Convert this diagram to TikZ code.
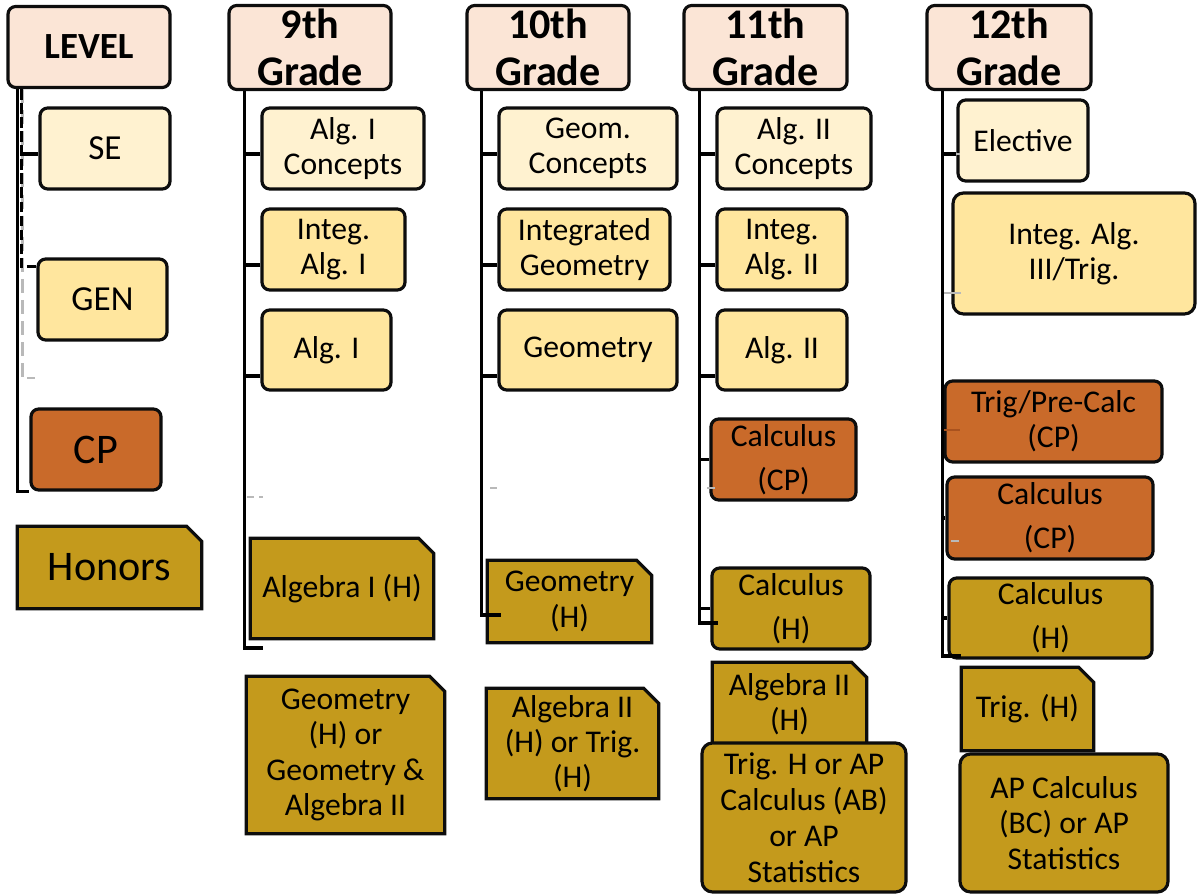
\documentclass[tikz,border=0pt]{standalone}
\usepackage{fontspec}
\setmainfont{Carlito}
\usepackage{tikz}
\usetikzlibrary{calc}
\usetikzlibrary{backgrounds}
\definecolor{headfill}{HTML}{FBE5D6}
\definecolor{litefill}{HTML}{FFF2D0}
\definecolor{midfill}{HTML}{FFE69E}
\definecolor{cpfill}{HTML}{C96A2A}
\definecolor{honfill}{HTML}{C49A1C}
\definecolor{tickbrown}{HTML}{A9521E}
\tikzstyle{box} = [draw=black!95, line width=0.9pt, rounded corners=2.2pt, align=center, inner sep=1pt, minimum height=8.1mm, font=\fontsize{9}{10}\selectfont]
\tikzstyle{headbox} = [box, fill=headfill, font=\bfseries\fontsize{12}{13.4}\selectfont]
\tikzstyle{litebox} = [box, fill=litefill]
\tikzstyle{midbox} = [box, fill=midfill]
\tikzstyle{cpbox} = [box, fill=cpfill]
\tikzstyle{honbox} = [box, fill=honfill, rounded corners=3pt]
\tikzstyle{spread} = [inner ysep=0pt, font=\fontsize{9}{12.5}\selectfont]
\tikzstyle{snip} = [align=center, inner sep=1pt, minimum height=8.1mm, font=\fontsize{9}{10}\selectfont]
\tikzstyle{snipline} = [draw=black!95, line width=0.9pt, fill=honfill, line join=miter]
\tikzstyle{link} = [line width=0.9pt]
\tikzstyle{stray} = [line width=0.8pt, gray!55]

\begin{document}
\begin{tikzpicture}[x=0.1mm, y=-0.1mm]
\useasboundingbox (0,0) rectangle (1197,895);

% level column
\node[headbox, font=\bfseries\fontsize{10.5}{12}\selectfont, minimum width=16.2mm] (lvl) at (89,47) {LEVEL};
\node[litebox, font=\fontsize{10}{12}\selectfont, minimum width=13mm] (se) at (105,148.5) {SE};
\node[midbox, font=\fontsize{10}{12}\selectfont, minimum width=12.9mm] (gen) at (102.5,299.5) {GEN};
\node[cpbox, font=\fontsize{12}{14}\selectfont, minimum width=13mm] (cp) at (96,449.5) {CP};
\node[snip, font=\fontsize{12}{14}\selectfont, minimum width=18.3mm] (hon) at (109.5,567.5) {Honors};

% 9th grade
\node[headbox, minimum width=16.2mm] (h9) at (310,47.5) {9th\\Grade};
\node[litebox, minimum width=16.2mm] (a9c) at (343,148.5) {Alg. I\\Concepts};
\node[midbox, minimum width=14.3mm] (a9i) at (333.5,249.5) {Integ.\\Alg. I};
\node[midbox, minimum width=12.9mm, minimum height=8mm] (a9) at (326.5,350) {Alg. I};
\node[snip, minimum width=18.2mm, minimum height=9.9mm] (a9h) at (342,588.5) {Algebra I (H)};
\node[snip, minimum width=19.7mm, minimum height=15.6mm] (g9h) at (345.5,755) {Geometry\\(H) or\\Geometry \&\\Algebra II};

% 10th grade
\node[headbox, minimum width=16.2mm] (h10) at (548,47.5) {10th\\Grade};
\node[litebox, minimum width=17.8mm] (g10c) at (588,148.5) {Geom.\\Concepts};
\node[midbox, minimum width=17.1mm] (g10i) at (584.5,249.5) {Integrated\\Geometry};
\node[midbox, minimum width=17.8mm, minimum height=8mm] (g10) at (588,350) {Geometry};
\node[snip, minimum width=16.3mm] (g10h) at (569.5,601.5) {Geometry\\(H)};
\node[snip, minimum width=17.1mm, minimum height=10.9mm] (a10h) at (572.5,743.5) {Algebra II\\(H) or Trig.\\(H)};

% 11th grade
\node[headbox, minimum width=16.3mm] (h11) at (765.5,47.5) {11th\\Grade};
\node[litebox, minimum width=15.4mm] (a11c) at (794,148.5) {Alg. II\\Concepts};
\node[midbox, minimum width=13mm] (a11i) at (782,249.5) {Integ.\\Alg. II};
\node[midbox, minimum width=13mm, minimum height=8mm] (a11) at (782,350) {Alg. II};
\node[cpbox, spread, minimum width=14.5mm] (c11) at (783.5,459.5) {Calculus\\(CP)};
\node[honbox, spread, rounded corners=2.2pt, minimum width=15.8mm] (c11h) at (791,608.5) {Calculus\\(H)};
\node[snip, minimum width=15.3mm, minimum height=8.2mm] (a11h) at (789.5,704) {Algebra II\\(H)};
\node[honbox, font=\fontsize{9}{10.2}\selectfont, minimum width=20.4mm, minimum height=14.9mm] (t11) at (804,817.5) {Trig. H or AP\\Calculus (AB)\\or AP\\Statistics};

% 12th grade
\node[headbox, minimum width=16.4mm] (h12) at (1009,47.5) {12th\\Grade};
\node[litebox, minimum width=13mm] (e12) at (1023,140.5) {Elective};
\node[midbox, rounded corners=3pt, minimum width=24.2mm, minimum height=12.1mm] (i12) at (1074,253.5) {Integ. Alg.\\III/Trig.};
\node[cpbox, minimum width=21.7mm] (p12) at (1053.5,421.5) {Trig/Pre-Calc\\(CP)};
\node[cpbox, spread, minimum width=20.6mm, minimum height=8.2mm] (c12) at (1050,518) {Calculus\\(CP)};
\node[honbox, spread, rounded corners=2.2pt, minimum width=20.3mm, minimum height=8mm] (c12h) at (1050.5,618) {Calculus\\(H)};
\node[snip, minimum width=13.1mm, minimum height=8.2mm] (t12) at (1027.5,709) {Trig. (H)};
\node[honbox, minimum width=20.8mm, minimum height=13.8mm] (ap12) at (1064,823) {AP Calculus\\(BC) or AP\\Statistics};

% honors boxes with the cut corner
\begin{scope}[on background layer]
\foreach \n in {hon,a9h,g9h,g10h,a10h,a11h,t12}
  \draw[snipline] (\n.south west) -- (\n.north west) -- ($(\n.north east)+(-15,0)$)
    -- ($(\n.north east)+(0,15)$) -- (\n.south east) -- cycle;
\end{scope}

% level lines
\coordinate (lt) at ([xshift=1.1mm]lvl.south west);
\coordinate (ld) at ([xshift=1.5mm]lvl.south west);
\draw[stray, dash pattern=on 4pt off 2pt] ([xshift=0.1mm]ld) -- ++(0,290);
\draw[stray] ([xshift=0.6mm,yshift=-28.9mm]ld) -- +(8,0);
\draw[link] (lt) |- (cp.south west);
\draw[link, dash pattern=on 3pt off 1pt] (ld) |- ([yshift=3.3mm]gen.west);
\draw[link] ([yshift=-0.55mm]se.west) -- +(-17,0);

% 9th grade lines
\coordinate (tr9) at ([xshift=1.7mm]h9.south west);
\coordinate (ft9) at (263,648);
\draw[link] (tr9) |- (ft9);
\draw[link] ([yshift=-0.55mm]a9c.west) -| (tr9);
\draw[link] ([yshift=-1.55mm]a9i.west) -| (tr9);
\draw[link] ([yshift=-2.6mm]a9.west) -| (tr9);
\draw[stray, dash pattern=on 2pt off 1.5pt] (247,497) -- (263,497);

% 10th grade lines
\coordinate (tr10) at ([xshift=1.6mm]h10.south west);
\coordinate (ft10) at (501,615);
\draw[link] (tr10) |- (ft10);
\draw[link] ([yshift=-0.55mm]g10c.west) -| (tr10);
\draw[link] ([yshift=-1.55mm]g10i.west) -| (tr10);
\draw[link] ([yshift=-2.6mm]g10.west) -| (tr10);
\draw[stray] (490,488) -- (497,488);

% 11th grade lines
\coordinate (tr11) at ([xshift=1.7mm]h11.south west);
\coordinate (ft11) at (718,623);
\draw[link] (tr11) |- (ft11);
\draw[link] ([yshift=-0.55mm]a11c.west) -| (tr11);
\draw[link] ([yshift=-1.55mm]a11i.west) -| (tr11);
\draw[link] ([yshift=-2.6mm]a11.west) -| (tr11);
\draw[link] (c11.west) -| (tr11);
\draw[link] (c11h.west) -| (tr11);
\draw[stray] (707,488) -- (715,488);

% 12th grade lines
\coordinate (tr12) at ([xshift=1.7mm]h12.south west);
\coordinate (ft12) at (961,656);
\draw[link] (tr12) |- (ft12);
\draw[link] ([yshift=-1.35mm]e12.west) -| (tr12);
\draw[stray] ([yshift=-1.35mm]e12.west) -- +(4,0);
\draw[stray] ([yshift=-3.95mm,xshift=-0.8mm]i12.west) -- +(18,0);
\draw[line width=0.8pt, tickbrown] ([yshift=-0.85mm]p12.west) -- +(17,0);
\draw[link] (c12.west) -| (tr12);
\draw[stray] ([yshift=-2.3mm,xshift=0.6mm]c12.west) -- +(8,0);
\draw[link] (c12h.west) -| (tr12);
\end{tikzpicture}
\end{document}
